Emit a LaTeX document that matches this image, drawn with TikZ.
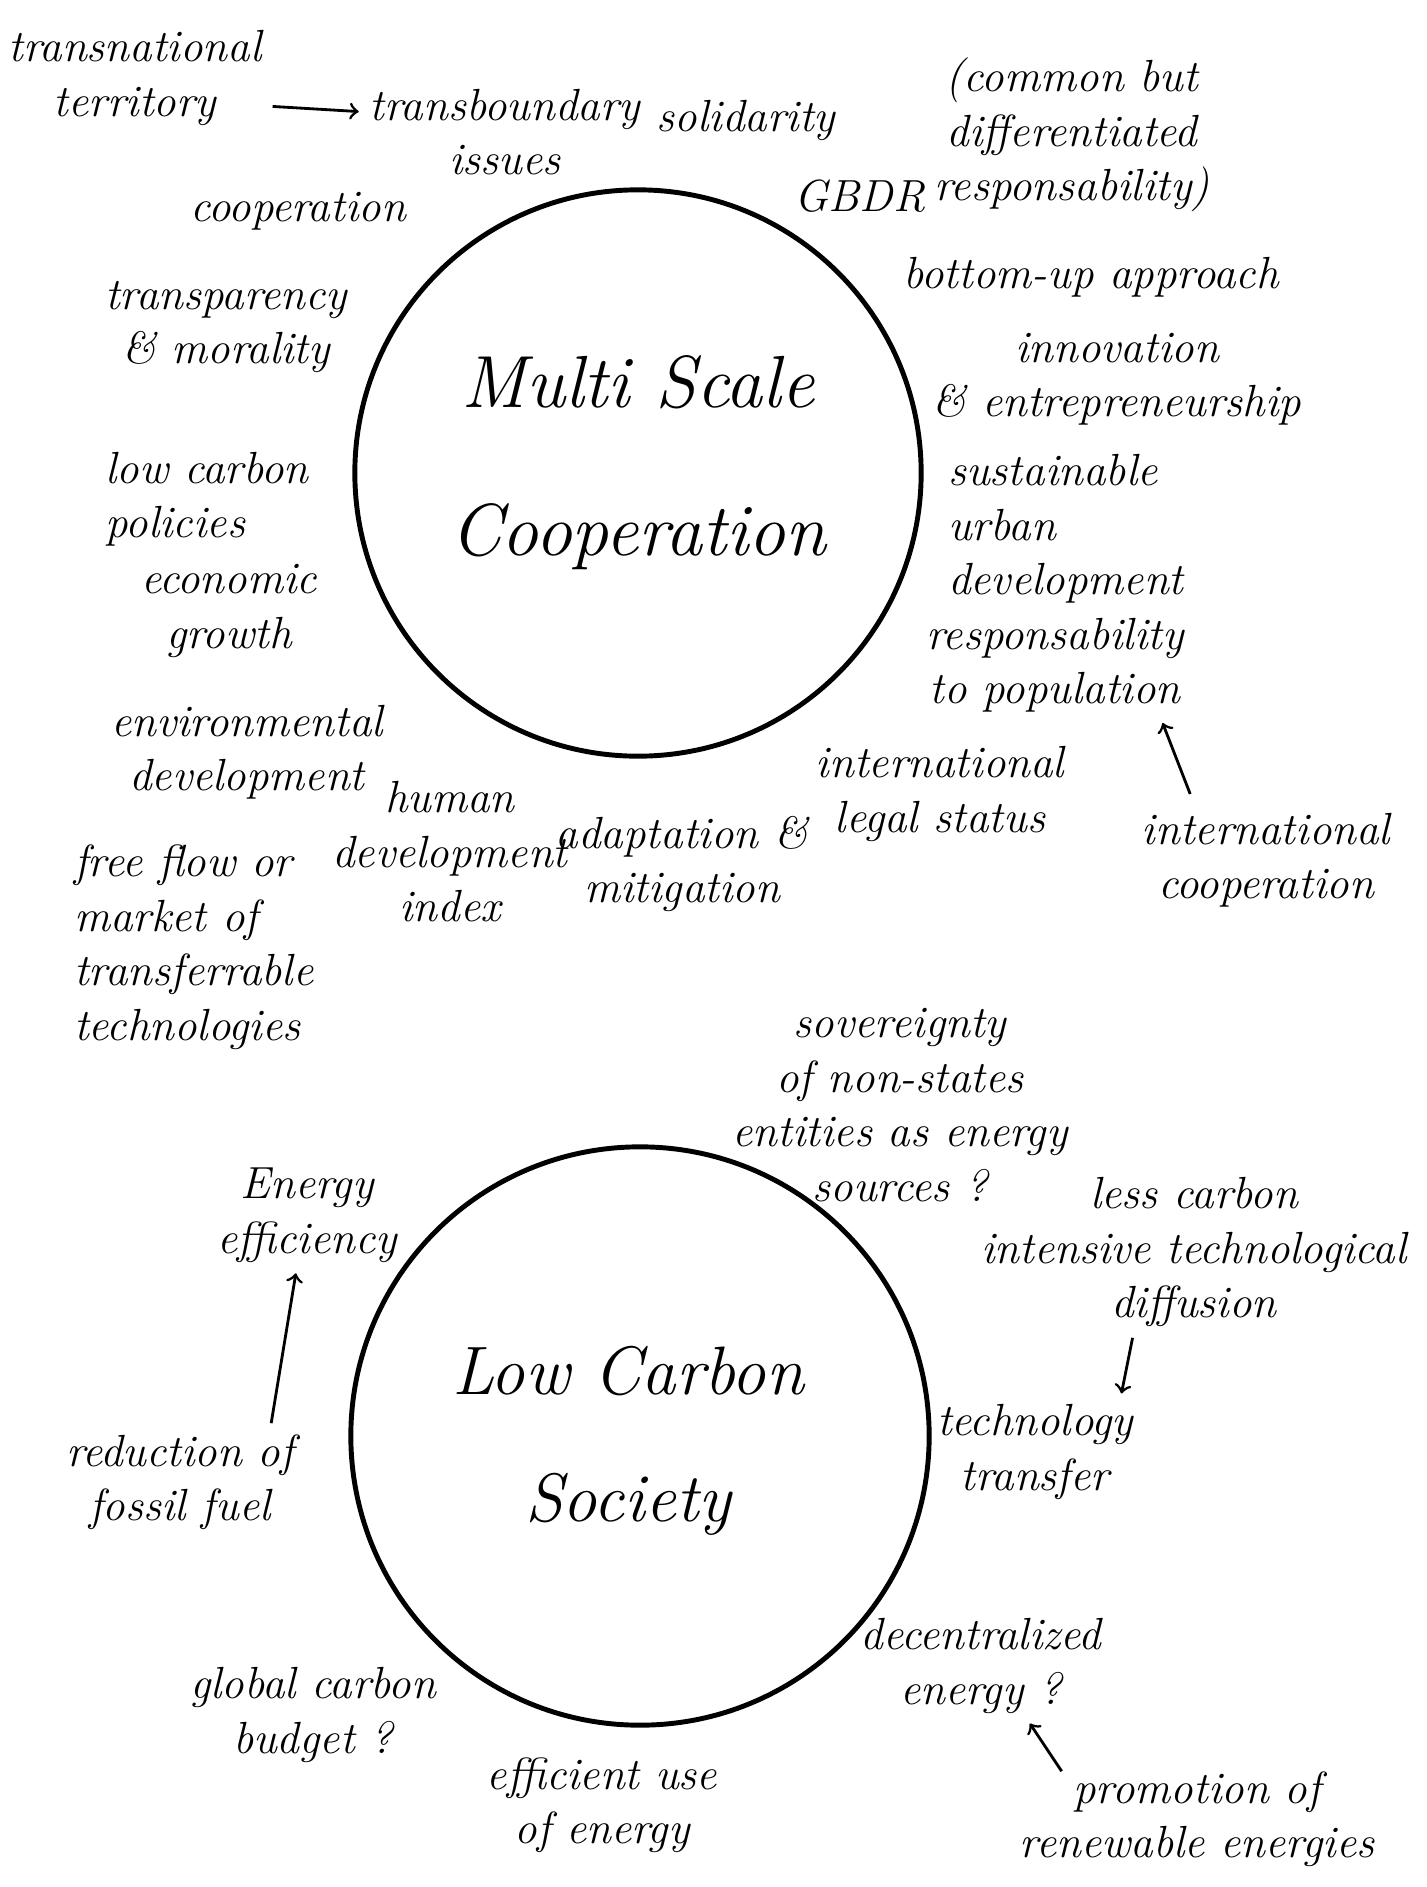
\documentclass[tikz,border=0pt]{standalone}
\usepackage{tikz}
\usetikzlibrary{positioning,arrows}

\begin{document}
\begin{tikzpicture}[
    x=0.01cm, y=-0.01cm,
    idea/.style={align=center, inner sep=1pt, font=\fontsize{12.8}{15.5}\selectfont\itshape},
    idealeft/.style={idea, align=left},
    hub/.style={circle, draw, line width=1.4pt, minimum size=5.66cm},
    hubtext/.style={align=center, font=\fontsize{21}{42}\selectfont\itshape},
    linkarrow/.style={->, thick, shorten >=2pt, shorten <=2pt}
]
    \useasboundingbox (0,0) rectangle (1427,1887);

    % Upper hub
    \node [hub] (msc) at (638,473) {};
    \node [hubtext] (msctext) at (638,463) {Multi Scale\\Cooperation};

    % Ideas round the upper hub
    \node [idea] (terr) at (135,78) {transnational\\territory};
    \node [idea] (trans) at (505,132) {transboundary\\issues};
    \node [idea] (solid) at (746,120) {solidarity};
    \node [idea] (cbdr) at (1072,135) {(common but\\differentiated\\responsability)};
    \node [idea] (gbdr) at (860,196) {GBDR};
    \node [idea] (coop) at (298,211) {cooperation};
    \node [idea] (transp) at (226,327) {transparency\\\& morality};
    \node [idea] (bottom) at (1091,277) {bottom-up approach};
    \node [idea] (innov) at (1117,379) {innovation\\\& entrepreneurship};
    \node [idealeft] (lowpol) at (207,499) {low carbon\\policies};
    \node [idealeft, anchor=west] (urban) at (944,529) {sustainable\\urban\\development};
    \node [idea] (econ) at (229,611) {economic\\growth};
    \node [idea] (resp) at (1055,665) {responsability\\to population};
    \node [idea] (intcoop) at (1266,860) {international\\cooperation};
    \node [idea] (env) at (247,752) {environmental\\development};
    \node [idea] (hdi) at (450,852) {human\\development\\index};
    \node [idea] (adapt) at (682,864) {adaptation \&\\mitigation};
    \node [idea] (legal) at (940,794) {international\\legal status};
    \node [idealeft, anchor=west] (free) at (70,947) {free flow or\\market of\\transferrable\\technologies};

    % Lower hub
    \node [hub, minimum size=5.78cm] (lcs) at (640,1436) {};
    \node [hubtext, font=\fontsize{19.5}{36}\selectfont\itshape] (lcstext) at (628,1441) {Low Carbon\\Society};

    % Ideas round the lower hub
    \node [idea] (sover) at (900,1105) {sovereignty\\of non-states\\entities as energy\\sources ?};
    \node [idea] (effic) at (307,1215) {Energy\\efficiency};
    \node [idea] (fossil) at (180,1482) {reduction of\\fossil fuel};
    \node [idea] (lessc) at (1194,1252) {less carbon\\intensive technological\\diffusion};
    \node [idea] (techtr) at (1035,1452) {technology\\transfer};
    \node [idea] (decen) at (981,1666) {decentralized\\energy ?};
    \node [idea] (renew) at (1197,1819) {promotion of\\renewable energies};
    \node [idea] (budget) at (313,1715) {global carbon\\budget ?};
    \node [idea] (useen) at (602,1805) {efficient use\\of energy};

    % Arrows
    \draw [linkarrow] ([yshift=-0.28cm]terr.east) -- ([yshift=0.2cm]trans.west);
    \draw [linkarrow] ([xshift=0.55cm,yshift=0.08cm]intcoop.north west) -- ([xshift=1.05cm]resp.south);
    \draw [linkarrow] ([xshift=0.9cm]fossil.north) -- ([xshift=-0.1cm]effic.south);
    \draw [linkarrow] ([xshift=-0.6cm]lessc.south) -- ([xshift=0.85cm]techtr.north);
    \draw [linkarrow] ([xshift=0.5cm,yshift=-0.1cm]renew.north west) -- ([xshift=0.45cm]decen.south);
\end{tikzpicture}
\end{document}
